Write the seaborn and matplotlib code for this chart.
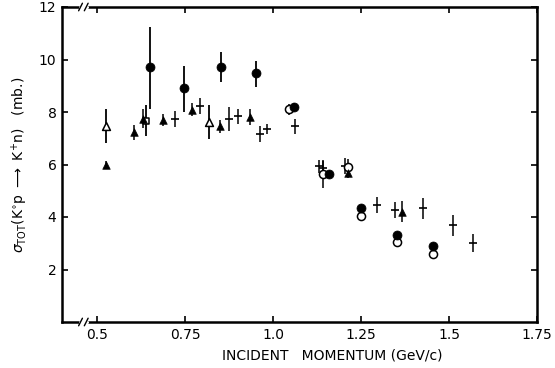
import matplotlib
matplotlib.use("Agg")
import matplotlib.pyplot as plt
import seaborn as sns
import pandas as pd
import numpy as np

sns.set_theme(style="ticks")
plt.rcParams['font.family'] = ['DejaVu Sans']

# ---- data ----
fc_x = [0.65, 0.748, 0.851, 0.951, 1.06, 1.16, 1.25, 1.351, 1.453]
fc_y = [9.72, 8.91, 9.72, 9.49, 8.20, 5.64, 4.33, 3.31, 2.90]
fc_lo = [1.60, 0.90, 0.58, 0.55, 0.15, 0.10, 0.10, 0.10, 0.10]
fc_hi = [1.50, 0.85, 0.58, 0.45, 0.15, 0.10, 0.10, 0.10, 0.10]

oc_x = [1.046, 1.141, 1.212, 1.25, 1.351, 1.453]
oc_y = [8.10, 5.64, 5.90, 4.04, 3.05, 2.58]
oc_err = [0.20, 0.55, 0.30, 0.15, 0.10, 0.10]

ft_x = [0.525, 0.605, 0.63, 0.687, 0.769, 0.849, 0.935, 1.212, 1.366]
ft_y = [6.00, 7.22, 7.75, 7.70, 8.09, 7.45, 7.82, 5.68, 4.20]
ft_err = [0.15, 0.27, 0.35, 0.22, 0.25, 0.25, 0.30, 0.20, 0.40]

ot_x = [0.525, 0.819]
ot_y = [7.47, 7.62]
ot_err = [0.65, 0.65]

sq_x = [0.64]
sq_y = [7.67]
sq_err = [0.60]

cr_x = [0.72, 0.793, 0.876, 0.901, 0.963, 0.982, 1.062, 1.129, 1.141,
        1.205, 1.295, 1.345, 1.427, 1.512, 1.567]
cr_y = [7.73, 8.22, 7.73, 7.83, 7.15, 7.35, 7.45, 5.93, 5.87,
        5.95, 4.46, 4.27, 4.33, 3.69, 3.01]
cr_err = [0.30, 0.30, 0.45, 0.30, 0.30, 0.20, 0.30, 0.25, 0.25,
          0.30, 0.30, 0.30, 0.40, 0.40, 0.35]

x_ticks = [0.5, 0.75, 1.0, 1.25, 1.5, 1.75]
x_tick_labels = ["0.5", "0.75", "1.0", "1.25", "1.5", "1.75"]
y_ticks = [2, 4, 6, 8, 10, 12]
y_tick_labels = ["2", "4", "6", "8", "10", "12"]

# ---- figure ----
fig = plt.figure(figsize=(5.55, 3.68), dpi=100)
ax = fig.add_axes([62/555, 46/368, (537-62)/555, (322-7)/368])

def df(x, y):
    return pd.DataFrame({"x": x, "y": y})

k = "black"
# error bars
ax.errorbar(fc_x, fc_y, yerr=[fc_lo, fc_hi], fmt="none", ecolor=k, elinewidth=1.3, capsize=0)
ax.errorbar(oc_x, oc_y, yerr=oc_err, fmt="none", ecolor=k, elinewidth=1.1, capsize=0)
ax.errorbar(ft_x, ft_y, yerr=ft_err, fmt="none", ecolor=k, elinewidth=1.1, capsize=0)
ax.errorbar(ot_x, ot_y, yerr=ot_err, fmt="none", ecolor=k, elinewidth=1.3, capsize=0)
ax.errorbar(sq_x, sq_y, yerr=sq_err, fmt="none", ecolor=k, elinewidth=1.3, capsize=0)
ax.errorbar(cr_x, cr_y, yerr=cr_err, fmt="none", ecolor=k, elinewidth=1.1, capsize=0)

# markers
sns.scatterplot(data=df(cr_x, cr_y), x="x", y="y", marker="_", s=36, color=k,
                linewidth=1.2, ax=ax, zorder=3)
sns.scatterplot(data=df(oc_x, oc_y), x="x", y="y", marker="o", s=34,
                facecolor="white", edgecolor=k, linewidth=1.1, ax=ax, zorder=3)
sns.scatterplot(data=df(fc_x, fc_y), x="x", y="y", marker="o", s=42,
                color=k, edgecolor=k, ax=ax, zorder=4)
sns.scatterplot(data=df(ot_x, ot_y), x="x", y="y", marker="^", s=32,
                facecolor="white", edgecolor=k, linewidth=1.1, ax=ax, zorder=4)
sns.scatterplot(data=df(sq_x, sq_y), x="x", y="y", marker="s", s=24,
                facecolor="white", edgecolor=k, linewidth=1.1, ax=ax, zorder=4)
sns.scatterplot(data=df(ft_x, ft_y), x="x", y="y", marker="^", s=30,
                color=k, edgecolor=k, ax=ax, zorder=4)

ax.set_xlim(0.4, 1.75)
ax.set_ylim(0, 12)
ax.set_xticks(x_ticks)
ax.set_xticklabels(x_tick_labels)
ax.set_yticks(y_ticks)
ax.set_yticklabels(y_tick_labels)
ax.tick_params(direction="in", length=4, width=1.2, top=True, right=True,
               labelsize=10, colors=k, pad=4)
for s in ax.spines.values():
    s.set_linewidth(1.8)
    s.set_color(k)

ax.set_xlabel("INCIDENT   MOMENTUM (GeV/c)", fontsize=10, color=k, labelpad=6)
ax.xaxis.set_label_coords(0.57, -0.085)
ax.set_ylabel(r"$\sigma_{\rm TOT}$(K$^{\circ}$p $\longrightarrow$ K$^{+}$n)   (mb.)",
              fontsize=10, color=k, labelpad=6)

# axis break marks near the left on top and bottom spines
for yy in (0, 1):
    for dx in (0.0, 0.012):
        ax.plot([0.035 + dx, 0.043 + dx], [yy - 0.012, yy + 0.012],
                transform=ax.transAxes, color=k, lw=1.0, clip_on=False, zorder=5)
    ax.plot([0.038, 0.052], [yy, yy], transform=ax.transAxes, color="white",
            lw=2.2, clip_on=False, zorder=4.5)

fig.savefig("out.png", dpi=100)
